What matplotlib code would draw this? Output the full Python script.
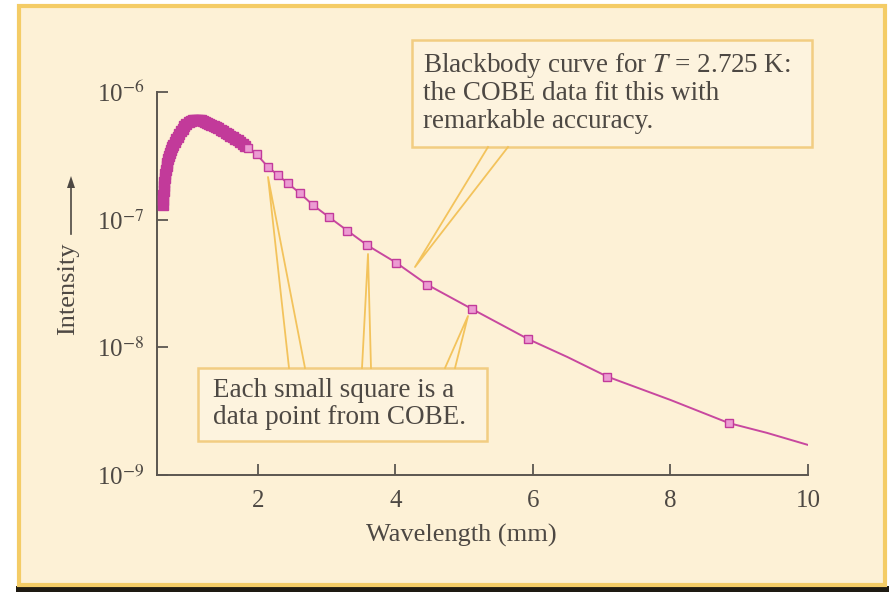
import matplotlib
matplotlib.use("Agg")
import matplotlib.pyplot as plt
from matplotlib.patches import Rectangle, Polygon
from matplotlib.ticker import NullLocator, FixedLocator

# Values
# blackbody curve (wavelength in mm, intensity)
curve_wl = [0.618, 0.647, 0.72, 0.817, 0.938, 1.108, 1.277, 1.472, 1.665, 1.859,
            1.981, 2.141, 2.287, 2.432, 2.611, 2.80, 3.03, 3.30, 3.59, 4.01,
            4.46, 5.11, 5.93, 6.5, 7.08, 8.0, 8.85, 9.4, 10.0]
curve_int = [1.30e-7, 2.24e-7, 3.21e-7, 4.33e-7, 5.52e-7, 6.04e-7, 5.69e-7, 5.04e-7, 4.33e-7, 3.62e-7,
             3.25e-7, 2.60e-7, 2.24e-7, 1.93e-7, 1.61e-7, 1.30e-7, 1.05e-7, 8.2e-8, 6.3e-8, 4.6e-8,
             3.1e-8, 2.0e-8, 1.16e-8, 8.4e-9, 5.9e-9, 3.87e-9, 2.55e-9, 2.14e-9, 1.72e-9]

# COBE data squares: the dense bunch round the peak
dense_wl = [0.618, 0.620, 0.623, 0.627, 0.632, 0.638, 0.645, 0.653, 0.662, 0.672,
            0.683, 0.695, 0.708, 0.722, 0.737, 0.753, 0.77, 0.79, 0.81, 0.83,
            0.855, 0.88, 0.905, 0.93, 0.96, 0.99, 1.02, 1.05, 1.08, 1.11,
            1.14, 1.17, 1.20, 1.23, 1.26, 1.29, 1.32, 1.355, 1.39, 1.425,
            1.46, 1.495, 1.53, 1.565, 1.60, 1.635, 1.67, 1.705, 1.74, 1.775, 1.81]
dense_int = [1.30e-7, 1.42e-7, 1.55e-7, 1.68e-7, 1.82e-7, 1.97e-7, 2.12e-7, 2.28e-7, 2.45e-7, 2.62e-7,
             2.80e-7, 2.98e-7, 3.15e-7, 3.32e-7, 3.50e-7, 3.68e-7, 3.86e-7, 4.05e-7, 4.25e-7, 4.45e-7,
             4.70e-7, 4.92e-7, 5.15e-7, 5.38e-7, 5.60e-7, 5.78e-7, 5.92e-7, 6.00e-7, 6.05e-7, 6.06e-7,
             6.04e-7, 6.00e-7, 5.94e-7, 5.85e-7, 5.75e-7, 5.65e-7, 5.55e-7, 5.42e-7, 5.30e-7, 5.18e-7,
             5.05e-7, 4.92e-7, 4.80e-7, 4.67e-7, 4.55e-7, 4.42e-7, 4.30e-7, 4.17e-7, 4.05e-7, 3.92e-7, 3.78e-7]

# COBE data squares: the separate ones
cobe_wl = [1.859, 1.981, 2.141, 2.287, 2.432, 2.611, 2.80, 3.03, 3.30, 3.59,
           4.01, 4.46, 5.11, 5.93, 7.08, 8.85]
cobe_int = [3.62e-7, 3.25e-7, 2.60e-7, 2.24e-7, 1.93e-7, 1.61e-7, 1.30e-7, 1.05e-7, 8.2e-8, 6.3e-8,
            4.6e-8, 3.1e-8, 2.0e-8, 1.16e-8, 5.9e-9, 2.55e-9]

x_ticks = [2, 4, 6, 8, 10]
y_ticks = [1e-9, 1e-8, 1e-7, 1e-6]
y_tick_labels = ["10$^{-9}$", "10$^{-8}$", "10$^{-7}$", "10$^{-6}$"]

top_note = ["Blackbody curve for $T$ = 2.725 K:", "the COBE data fit this with", "remarkable accuracy."]
bottom_note = ["Each small square is a", "data point from COBE."]

plt.rcParams["font.family"] = ["Liberation Serif", "DejaVu Serif"]
plt.rcParams["mathtext.fontset"] = "stix"

W, H = 889, 592
bg = "#fdf1d6"
frame = "#f4cc66"
callout = "#f2cd82"
ink = "#4d4843"
magenta = "#c23a9a"


def fx(x):
    return x / W


def fy(y):
    return 1 - y / H


fig = plt.figure(figsize=(W / 100, H / 100), dpi=100, facecolor="white")

# cream panel with yellow frame and dark bottom edge
fig.add_artist(Rectangle((fx(16), fy(592)), fx(889 - 16), 6 / H, transform=fig.transFigure,
                         facecolor="#1e1a12", edgecolor="none", zorder=0))
fig.add_artist(Rectangle((fx(19), fy(585)), fx(866), (585 - 6) / H, transform=fig.transFigure,
                         facecolor=bg, edgecolor=frame, linewidth=3, zorder=0))

ax = fig.add_axes([fx(157), fy(475), (808 - 157) / W, (475 - 92) / H])
ax.set_facecolor("none")
ax.set_yscale("log")
ax.set_xlim(0.531, 10)
ax.set_ylim(1e-9, 1e-6)

ax.plot(curve_wl, curve_int, color="#c8489f", linewidth=1.4, zorder=3)
ax.plot(dense_wl, dense_int, linestyle="none", marker="s", markersize=6.5,
        markerfacecolor=magenta, markeredgecolor=magenta, markeredgewidth=1.0, zorder=4)
ax.plot(cobe_wl, cobe_int, linestyle="none", marker="s", markersize=5.5,
        markerfacecolor="#ec9bd2", markeredgecolor=magenta, markeredgewidth=1.0, zorder=4)

for side in ["top", "right"]:
    ax.spines[side].set_visible(False)
for side in ["left", "bottom"]:
    ax.spines[side].set_color("#5b5650")
    ax.spines[side].set_linewidth(1.4)

ax.xaxis.set_major_locator(FixedLocator(x_ticks))
ax.set_xticklabels([str(t) for t in x_ticks])
ax.yaxis.set_major_locator(FixedLocator(y_ticks))
ax.yaxis.set_minor_locator(NullLocator())
ax.set_yticklabels(y_tick_labels)
ax.tick_params(axis="both", direction="in", length=8, width=1.3, color="#5b5650",
               labelcolor=ink, labelsize=18)
ax.tick_params(axis="x", pad=11)
ax.tick_params(axis="y", pad=9)

fig.text(fx(461), fy(535), "Wavelength (mm)", ha="center", va="center", fontsize=19, color=ink)
fig.text(fx(68), fy(289), "Intensity", ha="center", va="center", rotation=90, fontsize=19, color=ink)
fig.add_artist(plt.Line2D([fx(71), fx(71)], [fy(234), fy(186)], color=ink, linewidth=1.2,
                          transform=fig.transFigure))
fig.add_artist(Polygon([(fx(67), fy(188)), (fx(75), fy(188)), (fx(71), fy(176))], closed=True,
                       transform=fig.transFigure, facecolor=ink, edgecolor="none"))

# callout boxes
fig.add_artist(Rectangle((fx(412), fy(147)), (812 - 412) / W, (147 - 40) / H, transform=fig.transFigure,
                         facecolor="#fdf3de", edgecolor=callout, linewidth=1.8, zorder=5))
fig.add_artist(Rectangle((fx(198), fy(441)), (487 - 198) / W, (441 - 368) / H, transform=fig.transFigure,
                         facecolor="#fdf3de", edgecolor=callout, linewidth=1.8, zorder=5))

# pointer wedges: (base left, tip, base right) in pixels
wedges = [
    [(488, 147), (415, 267), (508, 147)],
    [(289, 368), (268, 177), (305, 368)],
    [(362, 368), (368, 254), (371, 368)],
    [(445, 368), (468, 316), (455, 368)],
]
for w in wedges:
    fig.add_artist(plt.Line2D([fx(p[0]) for p in w], [fy(p[1]) for p in w], color="#f3c35c",
                              linewidth=1.3, transform=fig.transFigure, zorder=6))

for i, line in enumerate(top_note):
    fig.text(fx(423), fy(72 + 28 * i), line, ha="left", va="baseline", fontsize=19.5, color=ink, zorder=7)
for i, line in enumerate(bottom_note):
    fig.text(fx(213), fy(397 + 27 * i), line, ha="left", va="baseline", fontsize=19.5, color=ink, zorder=7)

fig.savefig("out.png", dpi=100, facecolor=fig.get_facecolor())
